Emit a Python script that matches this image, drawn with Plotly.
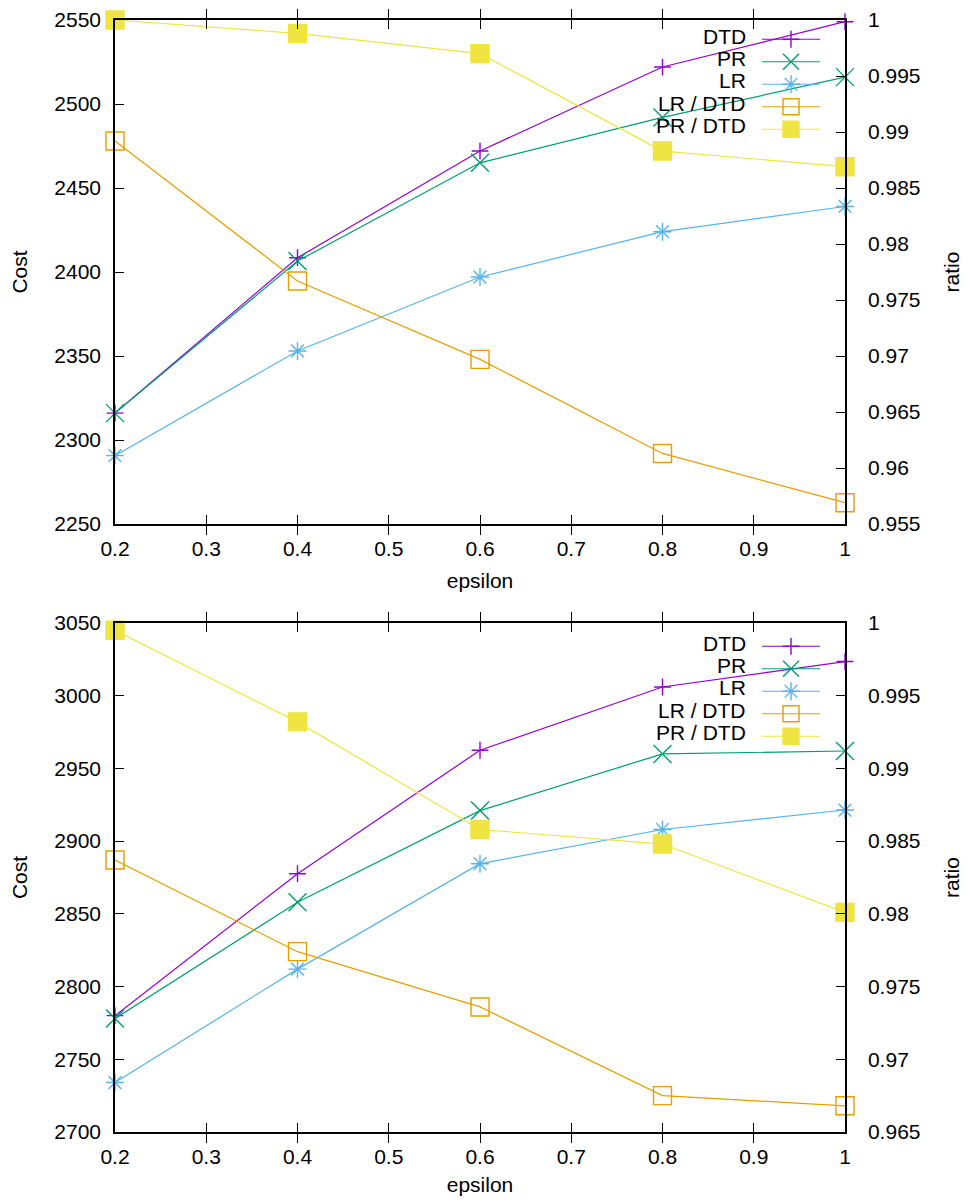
import plotly.graph_objects as go

# ---------------- data ----------------
epsilon = [0.2, 0.4, 0.6, 0.8, 1.0]
series_names = ["DTD", "PR", "LR", "LR / DTD", "PR / DTD"]

top_dtd = [2316, 2408.5, 2472, 2522, 2549]
top_pr = [2316, 2406.5, 2465, 2492, 2516]
top_lr = [2290.7, 2353, 2397, 2424, 2439]
top_lr_dtd = [0.9892, 0.9767, 0.9697, 0.9613, 0.9569]
top_pr_dtd = [1.0, 0.9988, 0.9970, 0.9883, 0.9869]

bot_dtd = [2780, 2877.6, 2962.5, 3006, 3023.5]
bot_pr = [2778, 2858, 2921, 2960, 2962]
bot_lr = [2734, 2812, 2884.5, 2908, 2921.4]
bot_lr_dtd = [0.9837, 0.9774, 0.9736, 0.9675, 0.9668]
bot_pr_dtd = [0.9995, 0.9932, 0.9858, 0.9848, 0.9801]

# ---------------- style ----------------
colors = ["#9400D3", "#009E73", "#56B4E9", "#E69F00", "#F0E442"]
symbols = ["cross-thin", "x-thin", "asterisk", "square-open", "square"]
sizes = [12, 18, 15, 18, 18]
FONT = "Liberation Sans, Arial, Helvetica, sans-serif"
FS = 21

# page has an 8px body margin; figure sized to fit the window
W, H = 955, 1188
FRAME_L_PAGE, FRAME_R_PAGE = 115, 845
FRAME_T_PAGE, FRAME_B_PAGE = 20, 1132
ML = FRAME_L_PAGE - 8
MR = W - (FRAME_R_PAGE - 8)
MT = FRAME_T_PAGE - 8
MB = H - (FRAME_B_PAGE - 8)
PW = W - ML - MR
PH = H - MT - MB


def py(page_y):
    return (FRAME_B_PAGE - page_y) / PH


def pxx(page_x):
    return (page_x - FRAME_L_PAGE) / PW


fig = go.Figure()

panels = [
    dict(vals=[top_dtd, top_pr, top_lr, top_lr_dtd, top_pr_dtd],
         xa="x", ya="y", ya2="y2", legend="legend"),
    dict(vals=[bot_dtd, bot_pr, bot_lr, bot_lr_dtd, bot_pr_dtd],
         xa="x2", ya="y3", ya2="y4", legend="legend2"),
]

for p in panels:
    for i, (name, vals) in enumerate(zip(series_names, p["vals"])):
        yax = p["ya"] if i < 3 else p["ya2"]
        fig.add_trace(go.Scatter(
            x=epsilon, y=vals, name=" ", mode="lines+markers",
            xaxis=p["xa"], yaxis=yax, legend=p["legend"],
            line=dict(color=colors[i], width=1.2),
            marker=dict(symbol=symbols[i], size=sizes[i], color=colors[i],
                        line=dict(color=colors[i], width=1.4)),
            cliponaxis=False, showlegend=True,
        ))

title_font = dict(family=FONT, size=FS, color="black")
axis_common = dict(showgrid=False, zeroline=False, showline=True,
                   linecolor="black", linewidth=1.5, ticks="inside",
                   ticklen=9, tickcolor="black", tickwidth=1.2,
                   ticklabeloverflow="allow",
                   tickfont=dict(family=FONT, size=FS, color="black"))

top_dom = [py(524), 1.0]
bot_dom = [0.0, py(623)]

for xa, ya in [("xaxis", "y"), ("xaxis2", "y3")]:
    fig.update_layout({xa: dict(axis_common, range=[0.2, 1.0], dtick=0.1,
                                tick0=0.2, anchor=ya, domain=[0, 1],
                                mirror="allticks", ticklabelstandoff=5,
                                title=dict(text="epsilon", standoff=14,
                                           font=title_font))})

fig.update_layout(
    yaxis=dict(axis_common, range=[2250, 2550], dtick=50, domain=top_dom,
               anchor="x", ticklabelstandoff=8,
               title=dict(text="Cost", standoff=22, font=title_font)),
    yaxis2=dict(axis_common, range=[0.955, 1.0], dtick=0.005, overlaying="y",
                side="right", anchor="x", ticklabelstandoff=17,
                title=dict(text="ratio", standoff=30, font=title_font)),
    yaxis3=dict(axis_common, range=[2700, 3050], dtick=50, domain=bot_dom,
                anchor="x2", ticklabelstandoff=8,
                title=dict(text="Cost", standoff=22, font=title_font)),
    yaxis4=dict(axis_common, range=[0.965, 1.0], dtick=0.005, overlaying="y3",
                side="right", anchor="x2", ticklabelstandoff=17,
                title=dict(text="ratio", standoff=30, font=title_font)),
)

leg_common = dict(xanchor="left", yanchor="top", bgcolor="rgba(0,0,0,0)",
                  borderwidth=0, itemwidth=58, traceorder="normal",
                  font=dict(family=FONT, size=15, color="black"),
                  itemclick=False, itemdoubleclick=False)

fig.update_layout(
    legend=dict(leg_common, x=pxx(757), y=py(23)),
    legend2=dict(leg_common, x=pxx(757), y=py(630)),
)

# legend labels (right-aligned, gnuplot style)
annotations = []
for row0 in (36, 643):
    for k, name in enumerate(series_names):
        annotations.append(dict(
            text=name, xref="paper", yref="paper", x=pxx(748),
            y=py(row0 + 22.4 * k), xanchor="right", yanchor="middle",
            showarrow=False, font=title_font))
fig.update_layout(annotations=annotations)

fig.update_layout(
    width=W, height=H,
    margin=dict(l=ML, r=MR, t=MT, b=MB, autoexpand=False),
    paper_bgcolor="white", plot_bgcolor="white",
    font=dict(family=FONT, size=FS, color="black"),
)

fig.write_html("out.html")
